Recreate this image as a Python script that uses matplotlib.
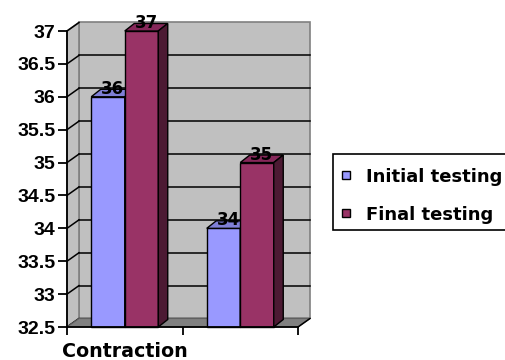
import matplotlib
matplotlib.use("Agg")
import matplotlib.pyplot as plt
from matplotlib.patches import Polygon, Rectangle
import numpy as np

plt.rcParams["font.family"] = ["Liberation Sans", "DejaVu Sans"]

# Data
categories = ["Contraction", ""]
series_names = ["Initial testing", "Final testing"]
initial = [36, 34]
final = [37, 35]
y_ticks = [32.5, 33, 33.5, 34, 34.5, 35, 35.5, 36, 36.5, 37]

# Colours (front, top, side) per series
face_cols = ["#9999FF", "#993366"]
top_cols = ["#7F7FD6", "#86285A"]
side_cols = ["#4C4C80", "#4C1A33"]
wall_col = "#C0C0C0"
floor_col = "#808080"

W, H = 505, 360
fig = plt.figure(figsize=(W / 100, H / 100), dpi=100)
ax = fig.add_axes([67 / W, 1 - 327 / H, (298 - 67) / W, (327 - 31) / H])
ymin, ymax = y_ticks[0], y_ticks[-1]
ax.set_xlim(0, 2)
ax.set_ylim(ymin, ymax)

# depth offsets in data units (wall / bars)
px_x = 2 / (298 - 67)
px_y = (ymax - ymin) / (327 - 31)
wdx, wdy = 12 * px_x, 8.5 * px_y
bdx, bdy = 9.5 * px_x, 7.5 * px_y

# back wall, floor, side wall
ax.add_patch(Rectangle((wdx, ymin + wdy), 2, ymax - ymin, facecolor=wall_col,
                       edgecolor="#808080", lw=1.2, zorder=1, clip_on=False))
ax.add_patch(Polygon([(0, ymin), (2, ymin), (2 + wdx, ymin + wdy), (wdx, ymin + wdy)],
                     closed=True, facecolor=floor_col, edgecolor="#606060", lw=0.8,
                     zorder=1.5, clip_on=False))
ax.add_patch(Polygon([(0, ymin), (0, ymax), (wdx, ymax + wdy), (wdx, ymin + wdy)],
                     closed=True, facecolor=wall_col, edgecolor="#808080", lw=1.2,
                     zorder=1.2, clip_on=False))
for v in y_ticks[1:-1]:
    ax.plot([wdx, 2 + wdx], [v + wdy, v + wdy], color="black", lw=1.1, zorder=1.3,
            clip_on=False)
for v in y_ticks:
    ax.plot([0, wdx], [v, v + wdy], color="black", lw=1.1, zorder=1.3, clip_on=False)
ax.plot([2, 2 + wdx], [ymin, ymin + wdy], color="black", lw=1.1, zorder=1.6,
        clip_on=False)

# bars
bw = 0.29
x = np.arange(len(categories)) + 0.5
for s, (vals, off) in enumerate([(initial, -bw / 2), (final, bw / 2)]):
    bars = ax.bar(x + off, np.array(vals) - ymin, bw, bottom=ymin,
                  color=face_cols[s], edgecolor="black", lw=1.0, zorder=3 + s,
                  clip_on=False)
    for b, v in zip(bars, vals):
        x0, x1 = b.get_x(), b.get_x() + b.get_width()
        ax.add_patch(Polygon([(x0, v), (x1, v), (x1 + bdx, v + bdy), (x0 + bdx, v + bdy)],
                             closed=True, facecolor=top_cols[s], edgecolor="black",
                             lw=1.0, zorder=3 + s, clip_on=False))
        ax.add_patch(Polygon([(x1, ymin), (x1, v), (x1 + bdx, v + bdy), (x1 + bdx, ymin + bdy)],
                             closed=True, facecolor=side_cols[s], edgecolor="black",
                             lw=1.0, zorder=3 + s, clip_on=False))
        ax.text((x0 + x1) / 2 + bdx / 2, v + 3 * px_y, f"{v:g}", ha="center",
                va="baseline", fontsize=12, fontweight="bold", family="DejaVu Sans",
                zorder=6, color="black")

# axes
for side in ["top", "right"]:
    ax.spines[side].set_visible(False)
for side in ["left", "bottom"]:
    ax.spines[side].set_linewidth(1.3)
    ax.spines[side].set_zorder(5)
ax.set_yticks(y_ticks)
ax.set_yticklabels([f"{v:g}" for v in y_ticks], fontsize=14, fontweight="bold")
ax.set_xticks([0, 1, 2])
ax.set_xticklabels([])
ax.tick_params(axis="y", direction="out", length=6.5, width=1.3, pad=2)
ax.tick_params(axis="x", direction="out", length=6, width=1.3)
for c, xc in zip(categories, x):
    ax.text(xc, ymin - 23 * px_y, c, ha="center", va="center_baseline",
            fontsize=13.7, fontweight="bold", family="DejaVu Sans")

# legend box
def fx(px):
    return px / W

def fy(py):
    return 1 - py / H

fig.patches.append(Rectangle((fx(333), fy(230)), fx(200), (230 - 154) / H,
                             transform=fig.transFigure, facecolor="white",
                             edgecolor="black", lw=1.2))
for i, (name, col) in enumerate(zip(series_names, face_cols)):
    yc = 174.5 + i * 38
    fig.patches.append(Rectangle((fx(341.5), fy(yc + 4)), 8 / W, 8 / H,
                                 transform=fig.transFigure, facecolor=col,
                                 edgecolor="black", lw=1.0))
    fig.text(fx(366), fy(yc), name, ha="left", va="center_baseline", fontsize=13,
             fontweight="bold", family="DejaVu Sans")

fig.savefig("out.png", dpi=100)
